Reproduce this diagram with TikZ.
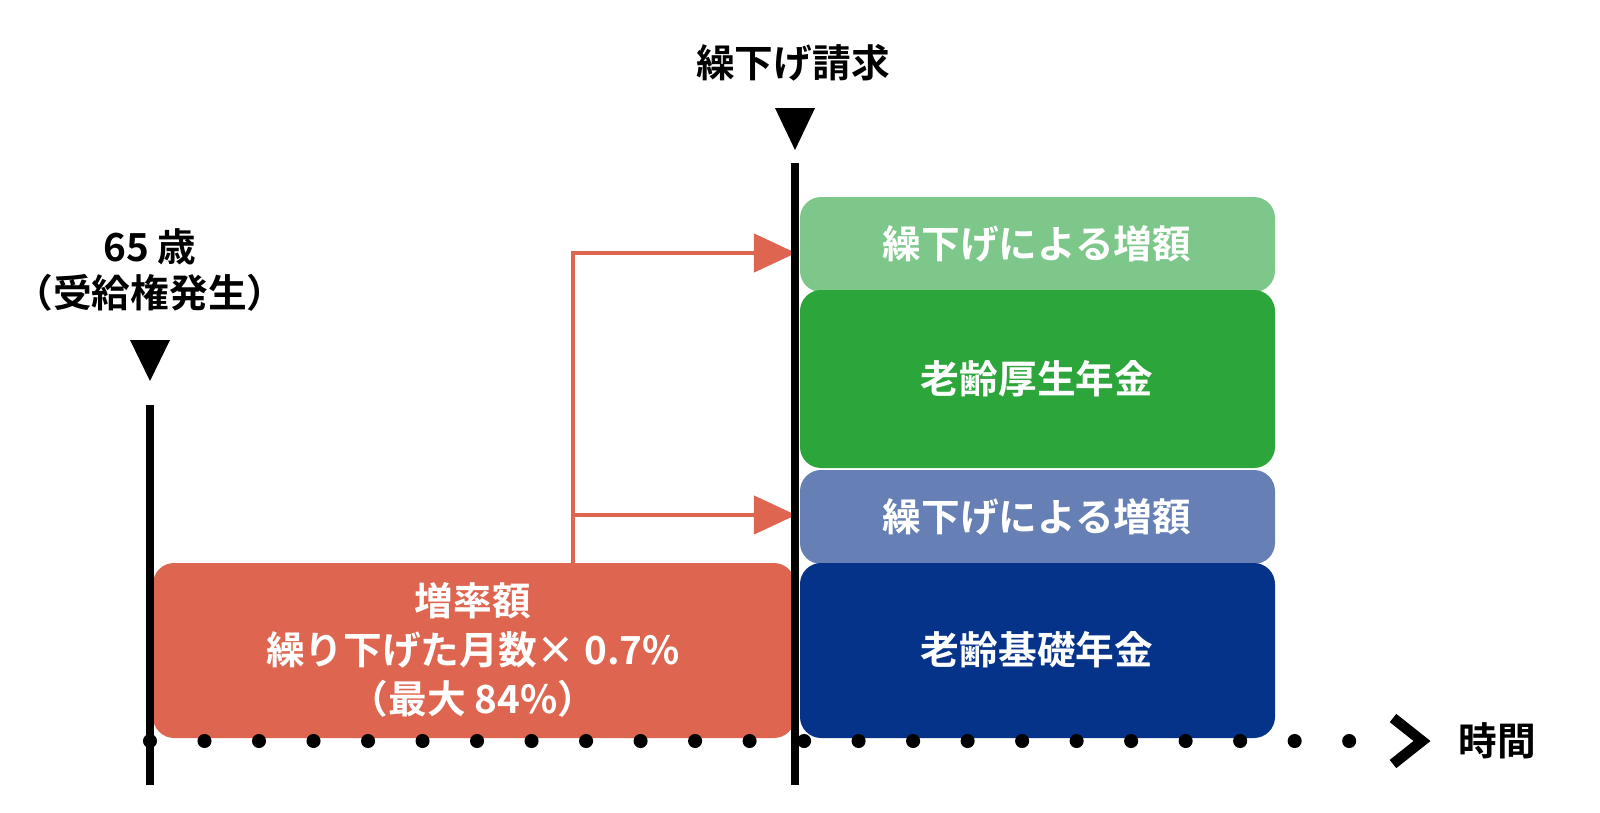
\documentclass[tikz,border=0pt]{standalone}
\usepackage{fontspec}
\setmainfont{Noto Sans CJK JP}[BoldFont={Noto Sans CJK JP Bold}]
\usetikzlibrary{arrows.meta}
\tikzset{
  blk/.style={rounded corners=6pt, inner sep=0pt, text=white, font=\bfseries\fontsize{11}{14}\selectfont, align=center},
  lbl/.style={font=\bfseries\fontsize{11}{13}\selectfont, align=center},
  pointer/.style={fill=black},
  link/.style={draw={rgb,255:red,222;green,102;blue,80}, line width=1.2pt, -{Triangle[length=0.42cm,width=0.38cm]}}
}
\definecolor{lgreen}{RGB}{125,199,138}
\definecolor{dgreen}{RGB}{44,166,59}
\definecolor{lblue}{RGB}{102,128,181}
\definecolor{navy}{RGB}{6,51,138}
\definecolor{rate}{RGB}{222,102,80}
\begin{document}
\begin{tikzpicture}[x=0.01cm, y=-0.01cm]
\useasboundingbox (0,0) rectangle (1600,812);
% Boxes
    \fill[lgreen, rounded corners=6pt] (800,197) rectangle (1275,292);
    \fill[dgreen, rounded corners=6pt] (800,290) rectangle (1275,468);
    \fill[lblue, rounded corners=6pt] (800,470) rectangle (1275,564);
    \fill[navy, rounded corners=6pt] (800,563) rectangle (1275,738);
    \fill[rate, rounded corners=6pt] (153,563) rectangle (795,738);
    \node[blk] (inc1) at (1037,244) {繰下げによる増額};
    \node[blk] (kosei) at (1037,379) {老齢厚生年金};
    \node[blk] (inc2) at (1037,517) {繰下げによる増額};
    \node[blk] (kiso) at (1037,650) {老齢基礎年金};
    \node[blk] (rate) at (473,650) {増率額\\繰り下げた月数× 0.7\%\\（最大 84\%）};
% Connectors
    \coordinate (fork) at (573,563);
    \coordinate (top) at (573,253);
    \coordinate (mid) at (573,515);
    \draw[link] (fork) -- (top) -- (796,253);
    \draw[link] (mid) -- (796,515);
% Time axis
    \draw[line width=2.4pt] (150,405) -- (150,785);
    \draw[line width=2.4pt] (795,163) -- (795,785);
    \draw[line width=4pt, dash pattern=on 0pt off 15.5pt, line cap=round] (150,741) -- (1355,741);
    \draw[line width=3pt] (1393,718) -- (1422,741) -- (1393,764);
    \node[lbl] (time) at (1497,741) {時間};
% Markers
    \fill[pointer] (130,340) -- (170,340) -- (150,381) -- cycle;
    \fill[pointer] (775,108) -- (815,108) -- (795,150) -- cycle;
    \node[lbl] (age) at (150,270) {65 歳\\（受給権発生）};
    \node[lbl] (claim) at (793,63) {繰下げ請求};
\end{tikzpicture}
\end{document}
